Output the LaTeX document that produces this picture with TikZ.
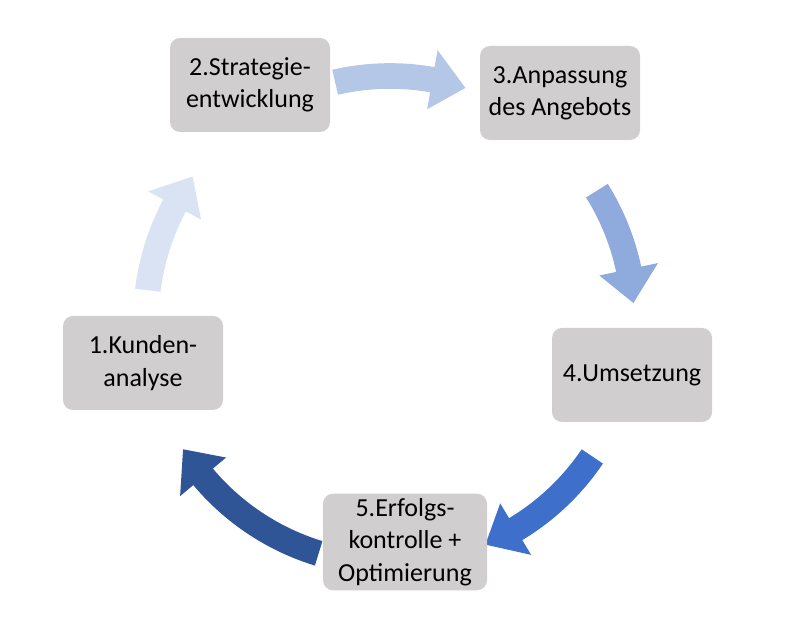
\documentclass[tikz,border=0pt]{standalone}
\usepackage{fontspec}
\setmainfont{Carlito}
\usetikzlibrary{positioning}
\definecolor{boxgray}{HTML}{D0CECE}
\definecolor{arrA}{HTML}{DAE3F3}
\definecolor{arrB}{HTML}{B4C7E7}
\definecolor{arrC}{HTML}{8FAADC}
\definecolor{arrD}{HTML}{3D6FCB}
\definecolor{arrE}{HTML}{2F5597}
\begin{document}
\begin{tikzpicture}[stagebox/.style={
			fill=boxgray,
			rounded corners=0.25cm,
			minimum width=4cm,
			minimum height=2.35cm,
			align=center,
			font=\fontsize{18.5}{23}\selectfont,
		}]
		\useasboundingbox (0,0) rectangle (20,15.625);
		\coordinate (C) at (9.75,7.625);
		% curved arrows, clockwise
		\foreach \a/\b/\col in {173/144/arrA, 103/72/arrB, 32/4/arrC, -34/-67/arrD, -107/-148/arrE}{
			\pgfmathsetmacro{\h}{\b+8}
			\fill[\col] ([shift={(C)}]\a:6.42) arc[start angle=\a, end angle=\h, radius=6.42]
				-- ([shift={(C)}]\h:6.85) -- ([shift={(C)}]\b:6.1) -- ([shift={(C)}]\h:5.35)
				-- ([shift={(C)}]\h:5.78) arc[start angle=\h, end angle=\a, radius=5.78] -- cycle;
		}
		\node[stagebox] (kunden) at (3.575,6.55) {1.Kunden-\\analyse};
		\node[stagebox] (strategie) at (6.25,13.5) {2.Strategie-\\entwicklung};
		\node[stagebox] (anpassung) at (14,13.3) {3.Anpassung\\des Angebots};
		\node[stagebox] (umsetzung) at (15.8,6.25) {4.Umsetzung};
		\node[stagebox, minimum width=4.1cm] (erfolg) at (10.125,2.075) {5.Erfolgs-\\kontrolle +\\Optimierung};
	\end{tikzpicture}
\end{document}
